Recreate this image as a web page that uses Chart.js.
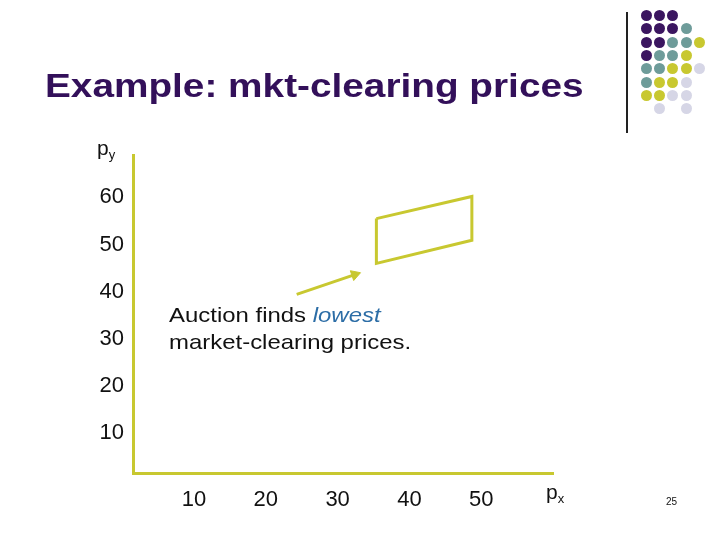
<!DOCTYPE html>
<html>
<head>
<meta charset="utf-8">
<script src="https://cdn.jsdelivr.net/npm/chart.js@4.4.1/dist/chart.umd.min.js"></script>
<style>
  html, body { margin: 0; padding: 0; background: #fff; }
  #slide { position: relative; width: 720px; height: 540px; overflow: hidden; font-family: "Liberation Sans", Arial, sans-serif; }
  #chart { position: absolute; left: 0; top: 0; }
  .title { position: absolute; left: 45px; top: 68px; font-size: 34px; line-height: 34px; font-weight: bold; color: #33105a; white-space: nowrap; transform: scaleX(1.14); transform-origin: 0 0; }
  .rule { position: absolute; left: 626px; top: 12px; width: 2px; height: 121px; background: #222; }
  .dot { position: absolute; width: 11px; height: 11px; border-radius: 50%; }
  .note { position: absolute; left: 169px; top: 301px; font-size: 21px; line-height: 27px; color: #111; white-space: nowrap; transform: scaleX(1.14); transform-origin: 0 0; }
  .note i { color: #2c6da6; }
  .lab { position: absolute; font-size: 21px; line-height: 21px; color: #111; }
  .lab sub { font-size: 13px; vertical-align: -4px; }
  .pg { position: absolute; left: 666px; top: 496px; font-size: 10px; color: #111; }
</style>
</head>
<body>
<div id="slide">
  <canvas id="chart" width="720" height="540"></canvas>
  <div class="title">Example: mkt-clearing prices</div>
  <div class="rule"></div>
  <div id="dots"></div>
  <div class="lab" style="left:97px; top:137px;">p<sub>y</sub></div>
  <div class="lab" style="left:546px; top:481px;">p<sub>x</sub></div>
  <div class="note">Auction finds <i>lowest</i><br>market-clearing prices.</div>
  <div class="pg">25</div>
</div>
<script>
// axis ticks (values)
const xTicks = [10, 20, 30, 40, 50];
const yTicks = [10, 20, 30, 40, 50, 60];
const xMin = 1.5, xMax = 60;
const yMin = 1.5, yMax = 69;

// price region (parallelogram) corners
const regionX = [35.4, 48.7, 48.7, 35.4, 35.4];
const regionY = [55.5, 60.2, 50.9, 46.0, 55.5];

// arrow pointing at the region
const arrowX = [24.3, 32.4];
const arrowY = [39.4, 43.6];

const olive = '#c8c830';
const fontFamily = '"Liberation Sans", Arial, sans-serif';

// decorative dot grid, top right
const dotRows = [
    'PPP..',
    'PPPT.',
    'PPTTY',
    'PTTY.',
    'TTYYL',
    'TYYL.',
    'YYLL.',
    '.L.L.'
];
const dotColors = { P: '#3b1660', T: '#6e9c9a', Y: '#c8c830', L: '#d6d6e6' };

function drawDots() {
    const box = document.getElementById('dots');
    dotRows.forEach((row, r) => {
        row.split('').forEach((c, i) => {
            if (!dotColors[c]) return;
            const d = document.createElement('div');
            d.className = 'dot';
            d.style.left = (641 + i * 13.2) + 'px';
            d.style.top = (10 + r * 13.3) + 'px';
            d.style.background = dotColors[c];
            box.appendChild(d);
        });
    });
}

function toPoints(xs, ys) {
    return xs.map((x, i) => ({ x: x, y: ys[i] }));
}

function createChart() {
    const ctx = document.getElementById('chart');

    new Chart(ctx, {
        type: 'scatter',
        data: {
            datasets: [{
                data: toPoints(regionX, regionY),
                showLine: true,
                borderColor: olive,
                borderWidth: 3,
                pointRadius: 0,
                fill: false
            }, {
                data: toPoints(arrowX, arrowY),
                showLine: true,
                borderColor: olive,
                backgroundColor: olive,
                borderWidth: 3,
                pointStyle: 'triangle',
                pointRadius: [0, 6],
                pointRotation: 71,
                pointBorderWidth: 1,
                fill: false
            }]
        },
        options: {
            responsive: false,
            animation: false,
            layout: {
                padding: { left: 97, top: 155, right: 167, bottom: 22 }
            },
            plugins: {
                legend: { display: false },
                tooltip: { enabled: false }
            },
            scales: {
                x: {
                    type: 'linear',
                    min: xMin,
                    max: xMax,
                    afterBuildTicks: s => { s.ticks = xTicks.map(v => ({ value: v })); },
                    afterFit: s => { s.height = 45; },
                    grid: { display: false, drawTicks: false },
                    border: { display: true, color: olive, width: 3 },
                    ticks: {
                        color: '#111',
                        padding: 14,
                        maxRotation: 0,
                        font: { family: fontFamily, size: 22 }
                    }
                },
                y: {
                    type: 'linear',
                    min: yMin,
                    max: yMax,
                    afterBuildTicks: s => { s.ticks = yTicks.map(v => ({ value: v })); },
                    afterFit: s => { s.width = 36; },
                    grid: { display: false, drawTicks: false },
                    border: { display: true, color: olive, width: 3 },
                    ticks: {
                        color: '#111',
                        padding: 9,
                        font: { family: fontFamily, size: 22 }
                    }
                }
            }
        }
    });
}

drawDots();
createChart();
</script>
</body>
</html>
